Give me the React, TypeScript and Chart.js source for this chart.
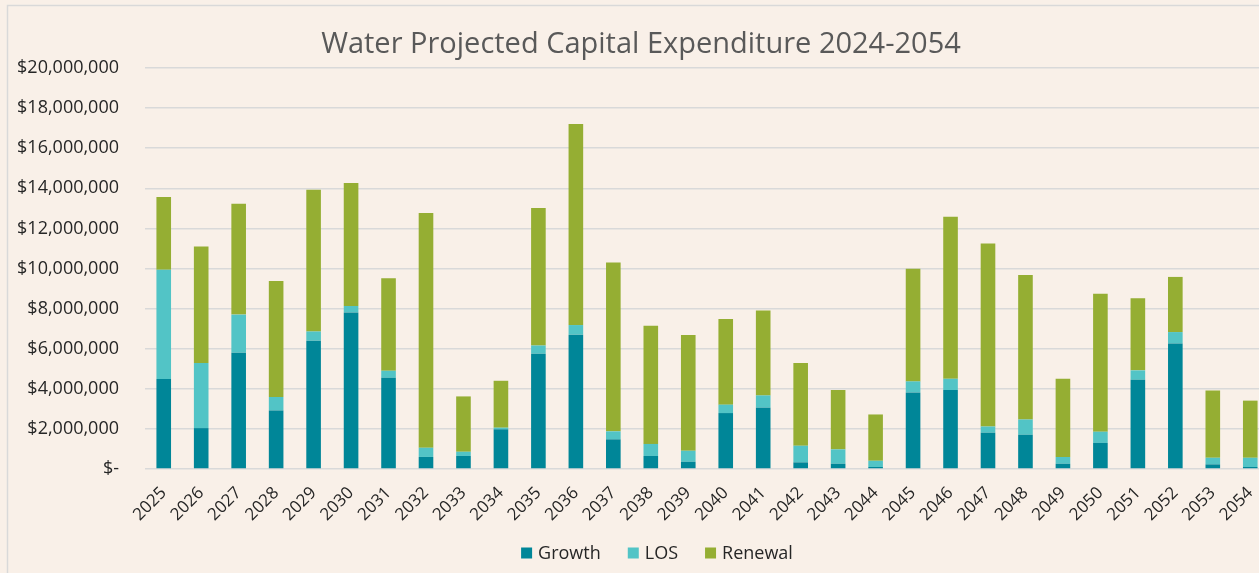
import React, { useEffect, useRef } from "react";
import { Chart, registerables } from "chart.js";

Chart.register(...registerables);

const TITLE = "Water Projected Capital Expenditure 2024-2054";

const years = [
  "2025", "2026", "2027", "2028", "2029", "2030", "2031", "2032", "2033", "2034",
  "2035", "2036", "2037", "2038", "2039", "2040", "2041", "2042", "2043", "2044",
  "2045", "2046", "2047", "2048", "2049", "2050", "2051", "2052", "2053", "2054",
];

const growth = [
  4490000, 2040000, 5800000, 2920000, 6400000, 7810000, 4550000, 600000, 650000, 1980000,
  5750000, 6700000, 1480000, 650000, 360000, 2790000, 3060000, 330000, 260000, 100000,
  3820000, 3940000, 1810000, 1710000, 260000, 1300000, 4450000, 6260000, 230000, 100000,
];

const los = [
  5450000, 3250000, 1900000, 670000, 460000, 320000, 350000, 460000, 210000, 80000,
  410000, 480000, 400000, 600000, 550000, 420000, 610000, 830000, 720000, 310000,
  550000, 560000, 310000, 760000, 340000, 560000, 470000, 570000, 330000, 460000,
];

const renewal = [
  3630000, 5810000, 5530000, 5790000, 7070000, 6130000, 4610000, 11710000, 2760000, 2340000,
  6860000, 10030000, 8420000, 5900000, 5770000, 4270000, 4230000, 4130000, 2960000, 2310000,
  5620000, 8080000, 9130000, 7210000, 3900000, 6880000, 3590000, 2750000, 3350000, 2850000,
];

const yMin = 0;
const yMax = 20000000;
const yStep = 2000000;

const BG = "#F9F0E8";
const FONT = "'Open Sans', 'DejaVu Sans', sans-serif";
const TEXT = "#262626";

const framePlugin = {
  id: "frame",
  beforeDraw(chart: any) {
    const ctx = chart.ctx;
    ctx.save();
    ctx.fillStyle = BG;
    ctx.fillRect(0, 0, chart.width, chart.height);
    ctx.strokeStyle = "#D9D9D9";
    ctx.lineWidth = 1.5;
    ctx.strokeRect(7.5, 5.5, chart.width + 50, chart.height + 50);
    ctx.restore();
  },
  afterDraw(chart: any) {
    const ctx = chart.ctx;
    ctx.save();
    // title
    ctx.fillStyle = "#595959";
    ctx.font = `400 29px ${FONT}`;
    ctx.textAlign = "center";
    ctx.textBaseline = "alphabetic";
    ctx.fillText(TITLE, 641, 53);

    // legend, built from the chart's datasets
    const box = 11;
    const gapText = 6;
    const gapItem = 27;
    ctx.font = `400 18px ${FONT}`;
    ctx.textAlign = "left";
    ctx.textBaseline = "middle";
    const items = chart.data.datasets.map((ds: any) => ({
      label: ds.label,
      color: ds.backgroundColor,
      w: box + gapText + ctx.measureText(ds.label).width,
    }));
    const total =
      items.reduce((s: number, it: any) => s + it.w, 0) + gapItem * (items.length - 1);
    let x = 657 - total / 2;
    const cy = 553;
    for (const it of items) {
      ctx.fillStyle = it.color;
      ctx.fillRect(x, cy - box / 2, box, box);
      ctx.fillStyle = TEXT;
      ctx.fillText(it.label, x + box + gapText, cy + 1);
      x += it.w + gapItem;
    }
    ctx.restore();
  },
};

export default function App() {
  const ref = useRef<HTMLCanvasElement | null>(null);

  useEffect(() => {
    if (!ref.current) return;
    const chart = new Chart(ref.current, {
      type: "bar",
      data: {
        labels: years,
        datasets: [
          { label: "Growth", data: growth, backgroundColor: "#008698" },
          { label: "LOS", data: los, backgroundColor: "#52C4C6" },
          { label: "Renewal", data: renewal, backgroundColor: "#95AE33" },
        ],
      },
      options: {
        responsive: false,
        animation: false,
        datasets: {
          bar: { categoryPercentage: 1, barPercentage: 0.39, borderWidth: 0 },
        },
        layout: { padding: { left: 10, right: 11, top: 68, bottom: 34 } },
        scales: {
          x: {
            stacked: true,
            grid: { display: false, drawTicks: false },
            border: { display: false },
            ticks: {
              minRotation: 45,
              maxRotation: 45,
              padding: 14,
              color: TEXT,
              font: { family: FONT, size: 17 },
            },
            afterFit(scale: any) {
              scale.height = 70;
            },
          },
          y: {
            stacked: true,
            min: yMin,
            max: yMax,
            grid: { color: "#D9D9D9", lineWidth: 1.5, drawTicks: false },
            border: { display: false },
            ticks: {
              stepSize: yStep,
              padding: 26,
              color: TEXT,
              font: { family: FONT, size: 18 },
              callback: (v: any) =>
                Number(v) === 0 ? "$-" : "$" + Number(v).toLocaleString("en-US"),
            },
            afterFit(scale: any) {
              scale.width = 135;
            },
          },
        },
        plugins: {
          title: { display: false },
          tooltip: { enabled: false },
          legend: { display: false },
        },
      },
      plugins: [framePlugin],
    });
    return () => chart.destroy();
  }, []);

  return (
    <div
      style={{
        position: "fixed",
        left: 0,
        top: 0,
        width: 1259,
        height: 573,
        overflow: "hidden",
        background: BG,
      }}
    >
      <canvas ref={ref} width={1280} height={573} style={{ display: "block" }} />
    </div>
  );
}
